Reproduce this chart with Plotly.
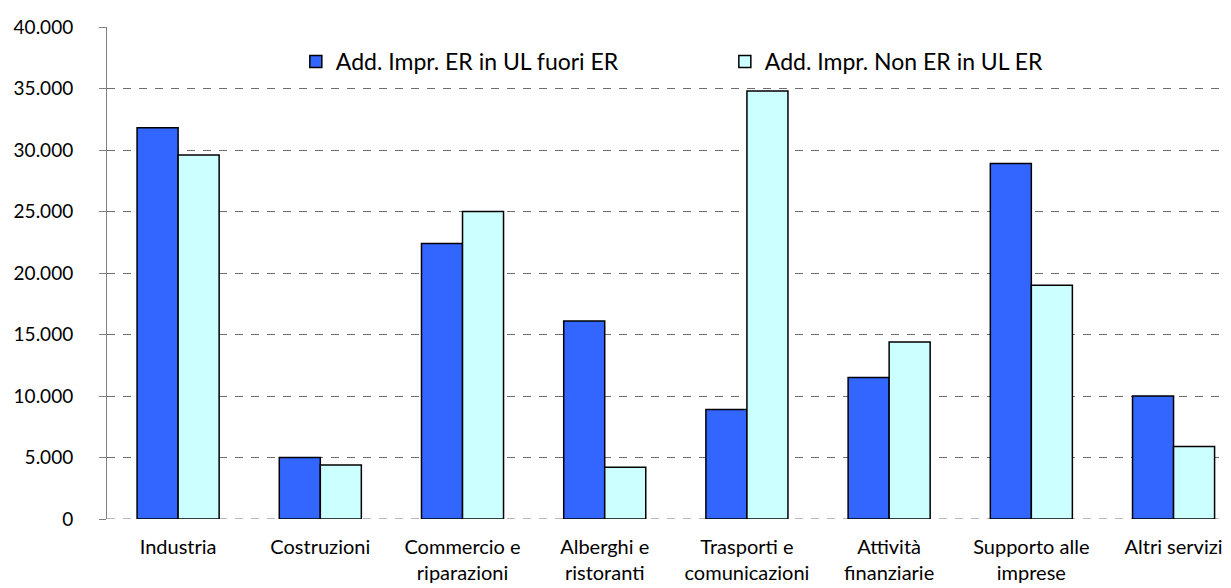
import plotly.graph_objects as go

categories = ["Industria", "Costruzioni", "Commercio e<br>riparazioni", "Alberghi e<br>ristoranti",
              "Trasporti e<br>comunicazioni", "Attività<br>finanziarie", "Supporto alle<br>imprese",
              "Altri servizi"]
er_fuori = [31800, 5000, 22400, 16100, 8900, 11500, 28900, 10000]
non_er_in = [29600, 4400, 25000, 4200, 34800, 14400, 19000, 5900]
series_names = ["Add. Impr. ER in UL fuori ER", "Add. Impr. Non ER in UL ER"]
y_ticks = [0, 5000, 10000, 15000, 20000, 25000, 30000, 35000, 40000]

GRID = "#707070"
DASH = "8px,8px"

fig = go.Figure()
fig.add_trace(go.Bar(
    x=categories, y=er_fuori, name=series_names[0],
    marker=dict(color="#3366FF", line=dict(color="#000000", width=1.5)),
))
fig.add_trace(go.Bar(
    x=categories, y=non_er_in, name=series_names[1],
    marker=dict(color="#CCFFFF", line=dict(color="#000000", width=1.5)),
))

# dashed baseline, like the gridlines
fig.add_hline(y=0, line=dict(color=GRID, width=1, dash=DASH), layer="below")

# page body has an 8px margin, so the figure is sized to the remaining window
fig.update_layout(
    width=1223, height=580,
    margin=dict(l=99, r=0, t=19, b=69),
    plot_bgcolor="white", paper_bgcolor="white",
    font=dict(family="Lato, Carlito, sans-serif", color="#000000", size=18),
    separators=",.",
    barmode="group",
    bargap=0.423, bargroupgap=0,
    legend=dict(
        orientation="h", x=0.168, y=0.93, xanchor="left", yanchor="middle",
        entrywidth=384, entrywidthmode="pixels",
        font=dict(size=23), bgcolor="rgba(0,0,0,0)",
    ),
    xaxis=dict(
        range=[-0.5, 7.404],
        showline=False, ticks="", showgrid=False,
        tickfont=dict(size=20), ticklabelstandoff=14,
    ),
    yaxis=dict(
        range=[0, 40000], tickvals=y_ticks, tickformat=",",
        showline=True, linecolor="#808080", linewidth=1,
        ticks="outside", ticklen=7, tickcolor="#808080",
        showgrid=True, gridcolor=GRID, griddash=DASH, gridwidth=1,
        zeroline=False,
        tickfont=dict(size=19), ticklabelstandoff=22,
    ),
)

fig.write_html("out.html")
